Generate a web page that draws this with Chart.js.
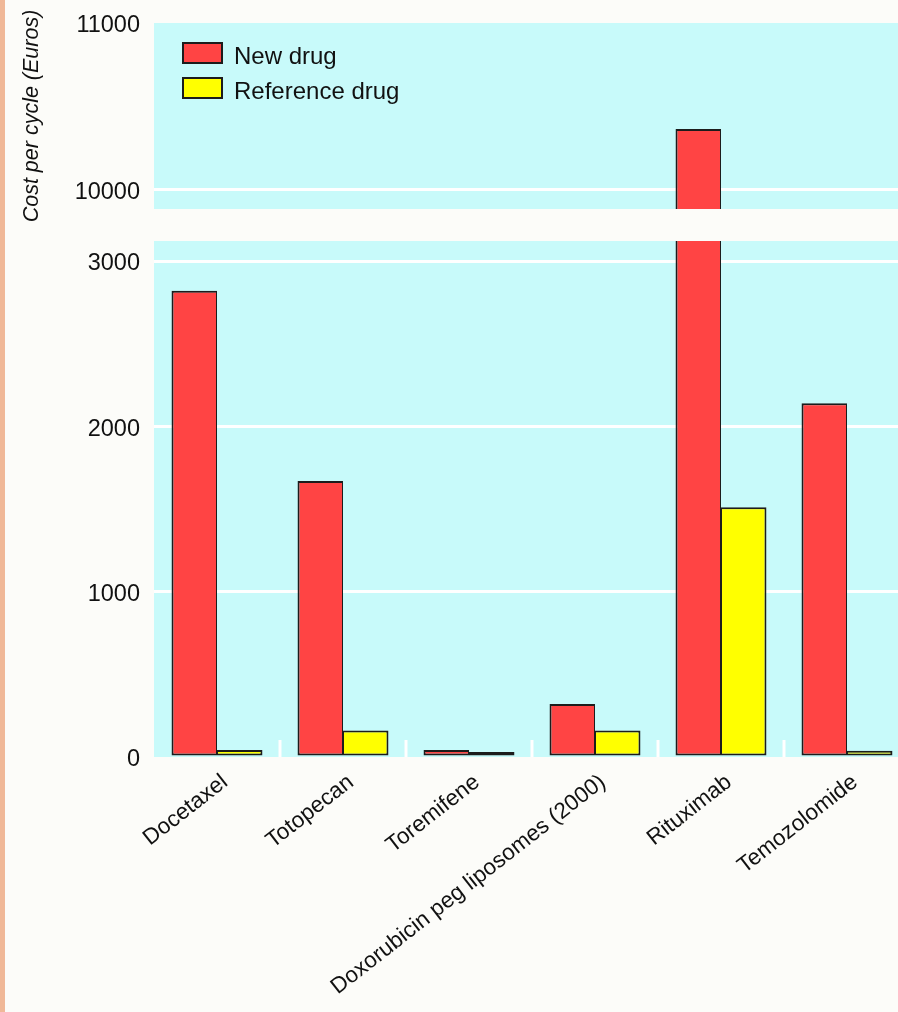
<!DOCTYPE html>
<html>
<head>
<meta charset="utf-8">
<script src="https://cdn.jsdelivr.net/npm/chart.js@4/dist/chart.umd.min.js"></script>
<style>
  html, body { margin: 0; padding: 0; width: 898px; height: 1012px; overflow: hidden; background: #fcfcf9; }
  #strip { position: absolute; left: 0; top: 0; width: 5px; height: 1012px; background: #f0b898; }
  #upper { position: absolute; left: 0; top: 0; }
  #lower { position: absolute; left: 0; top: 225px; }
</style>
</head>
<body>
<canvas id="upper" width="910" height="225"></canvas>
<canvas id="lower" width="910" height="787"></canvas>
<div id="strip"></div>
<script>
// Cost per cycle of new anticancer drugs against their reference drugs (Euros)
const drugs = ['Docetaxel', 'Totopecan', 'Toremifene', 'Doxorubicin peg liposomes (2000)', 'Rituximab', 'Temozolomide'];
const newDrugCost = [2820, 1670, 42, 320, 10365, 2140];
const referenceDrugCost = [42, 160, 30, 160, 1510, 38];
const seriesNames = ['New drug', 'Reference drug'];

// Broken value axis: an upper band and a lower band
const upperTicks = [10000, 11000];
const lowerTicks = [0, 1000, 2000, 3000];
const upperRange = [9886, 11000];
const lowerRange = [0, 3121];

Chart.defaults.font.family = '"Liberation Sans", Arial, Helvetica, sans-serif';
Chart.defaults.color = '#111111';

const PANEL = '#c8fafa';
const RED = '#ff4444';
const YELLOW = '#ffff00';
const EDGE = '#1c1c1c';

// Light cyan plot panel behind grid and bars
const panelFill = {
  id: 'panelFill',
  beforeDraw(chart) {
    const { ctx, chartArea: a } = chart;
    ctx.save();
    ctx.fillStyle = PANEL;
    ctx.fillRect(a.left, a.top, a.right - a.left, a.bottom - a.top);
    ctx.restore();
  }
};

// Boxed legend inside the top-left corner of the upper panel
const boxLegend = {
  id: 'boxLegend',
  afterDraw(chart) {
    const { ctx, chartArea: a } = chart;
    ctx.save();
    chart.data.datasets.forEach((ds, i) => {
      const x = a.left + 28;
      const y = a.top + 19 + i * 35;
      ctx.fillStyle = ds.backgroundColor;
      ctx.fillRect(x, y, 41, 22);
      ctx.strokeStyle = EDGE;
      ctx.lineWidth = 2;
      ctx.strokeRect(x + 1, y + 1, 39, 20);
      ctx.fillStyle = '#111111';
      ctx.font = '24px "Liberation Sans", Arial, sans-serif';
      ctx.textBaseline = 'alphabetic';
      ctx.textAlign = 'left';
      ctx.fillText(ds.label, a.left + 80, y + 21.5);
    });
    ctx.restore();
  }
};

// Short white separators between category groups at the base
const groupMarks = {
  id: 'groupMarks',
  beforeDatasetsDraw(chart) {
    const { ctx, chartArea: a } = chart;
    const xs = chart.scales.x;
    ctx.save();
    ctx.strokeStyle = '#ffffff';
    ctx.lineWidth = 3;
    for (let i = 1; i < drugs.length; i++) {
      const px = (xs.getPixelForValue(i - 1) + xs.getPixelForValue(i)) / 2;
      ctx.beginPath();
      ctx.moveTo(px, a.bottom - 17);
      ctx.lineTo(px, a.bottom);
      ctx.stroke();
    }
    ctx.restore();
  }
};

function makeDatasets(skipBase) {
  return [
    {
      label: seriesNames[0], data: newDrugCost,
      backgroundColor: RED, borderColor: EDGE,
      borderWidth: { top: 2, left: 2, right: 1, bottom: 2 },
      borderSkipped: skipBase ? 'start' : false,
      barPercentage: 1, categoryPercentage: 0.722, clip: 0
    },
    {
      label: seriesNames[1], data: referenceDrugCost,
      backgroundColor: YELLOW, borderColor: EDGE,
      borderWidth: { top: 2, left: 1, right: 2, bottom: 2 },
      borderSkipped: skipBase ? 'start' : false,
      barPercentage: 1, categoryPercentage: 0.722, clip: 0
    }
  ];
}

// Value axis for one band; padTop/padBottom fix the band's position in its canvas
function valueAxis(range, tickValues, padTop, padBottom, withTitle) {
  const axis = {
    min: range[0], max: range[1],
    afterBuildTicks(s) { s.ticks = tickValues.map(v => ({ value: v })); },
    afterFit(s) {
      s.width = 154;
      s.paddingTop = padTop;
      s.paddingBottom = padBottom;
    },
    grid: {
      color: c => (c.tick && (c.tick.value === 11000 || c.tick.value === 0)) ? 'rgba(0,0,0,0)' : '#ffffff',
      lineWidth: 3, drawTicks: false
    },
    border: { display: false },
    ticks: { padding: 14, labelOffset: 3, font: { size: 23.5 }, color: '#111111', callback: v => String(v) }
  };
  if (withTitle) {
    axis.title = {
      display: true, text: 'Cost per cycle (Euros)',
      font: { size: 21.5, style: 'italic' }, color: '#111111',
      padding: { top: 19, bottom: 0 }
    };
  }
  return axis;
}

new Chart(document.getElementById('upper'), {
  type: 'bar',
  data: { labels: drugs, datasets: makeDatasets(true) },
  options: {
    responsive: false, animation: false,
    layout: { padding: 0 },
    plugins: { legend: { display: false }, tooltip: { enabled: false } },
    scales: {
      x: { display: false },
      y: valueAxis(upperRange, upperTicks, 23, 16, true)
    }
  },
  plugins: [panelFill, boxLegend]
});

new Chart(document.getElementById('lower'), {
  type: 'bar',
  data: { labels: drugs, datasets: makeDatasets(false) },
  options: {
    responsive: false, animation: false,
    layout: { padding: 0 },
    plugins: { legend: { display: false }, tooltip: { enabled: false } },
    scales: {
      x: {
        grid: { display: false }, border: { display: false },
        ticks: { autoSkip: false, minRotation: 38, maxRotation: 38, font: { size: 22.5 }, color: '#111111', padding: 4, labelOffset: 8 },
        afterFit(s) { s.height = 255; }
      },
      y: valueAxis(lowerRange, lowerTicks, 16, 0, false)
    }
  },
  plugins: [panelFill, groupMarks]
});
</script>
</body>
</html>
